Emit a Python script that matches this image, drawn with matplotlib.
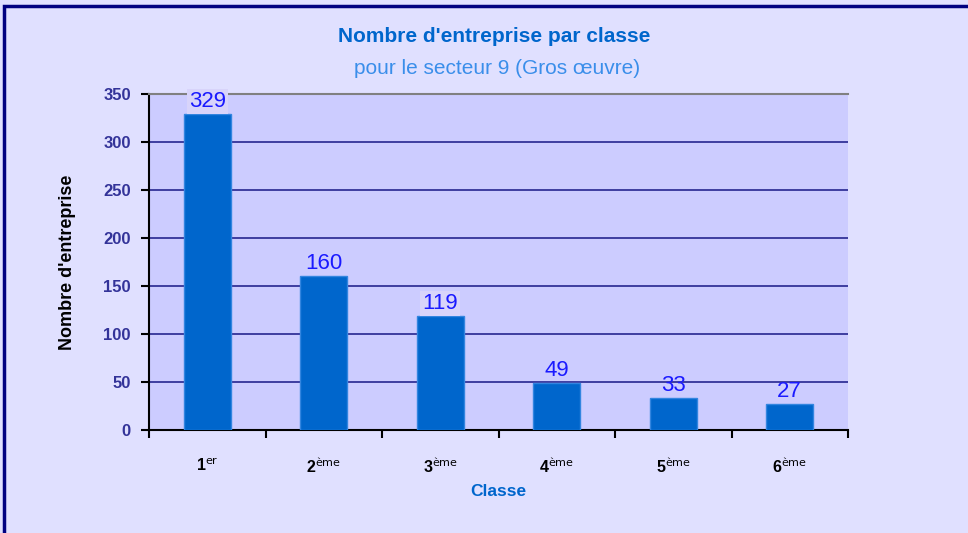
import matplotlib.pyplot as plt
import numpy as np

classes = ["1$^{\\mathrm{er}}$", "2$^{\\mathrm{ème}}$", "3$^{\\mathrm{ème}}$",
           "4$^{\\mathrm{ème}}$", "5$^{\\mathrm{ème}}$", "6$^{\\mathrm{ème}}$"]
nb_entreprises = [329, 160, 119, 49, 33, 27]
yticks = [0, 50, 100, 150, 200, 250, 300, 350]

plt.rcParams['font.family'] = ['Liberation Sans', 'DejaVu Sans']
plt.rcParams['mathtext.default'] = 'regular'

fig = plt.figure(figsize=(9.68, 5.33), dpi=100)
fig.patch.set_facecolor('#E0E0FF')

# navy frame around the chart area (runs off right and bottom)
frame = plt.Rectangle((4 / 968, -0.1), 1.2, (533 - 6) / 533 + 0.1, transform=fig.transFigure,
                      fill=False, edgecolor='#000080', linewidth=2.5)
fig.patches.append(frame)

ax = fig.add_axes([149 / 968, 103 / 533, 699 / 968, 336 / 533])
ax.set_facecolor('#CCCCFF')

x = np.arange(len(classes))
bars = ax.bar(x, nb_entreprises, width=0.4, color='#0066CC', edgecolor='#3385E0',
              linewidth=1, zorder=3)

ax.set_xlim(-0.5, len(classes) - 0.5)
ax.set_ylim(0, 350)
ax.set_yticks(yticks)
ax.set_yticklabels([str(v) for v in yticks], color='#333399', fontweight='bold', fontsize=12)
ax.yaxis.grid(True, color='#333399', linewidth=1.3, zorder=1)
ax.tick_params(axis='y', length=6, width=1.5, direction='out', pad=7)

ax.set_xticks(x)
ax.set_xticklabels(classes, fontweight='bold', fontsize=11.5, color='black')
ax.set_xticks(np.arange(len(classes) + 1) - 0.5, minor=True)
ax.tick_params(axis='x', which='major', length=0, pad=19)
ax.tick_params(axis='x', which='minor', length=6, width=1.5, direction='out')

for s in ['left', 'bottom']:
    ax.spines[s].set_color('black')
    ax.spines[s].set_linewidth(1.5)
ax.spines['top'].set_color('#808080')
ax.spines['top'].set_linewidth(1.5)
ax.spines['right'].set_visible(False)

for xi, v in zip(x, nb_entreprises):
    box = None
    if v in (329, 119):
        box = dict(boxstyle='square,pad=0.1', facecolor='#D8D4FA', edgecolor='none')
    ax.text(xi, v + 2, str(v), ha='center', va='bottom', color='#1A1AFF',
            fontsize=16, bbox=box, zorder=4, clip_on=False)

ax.set_ylabel("Nombre d'entreprise", fontweight='bold', fontsize=13, color='black', labelpad=20)
ax.set_xlabel("Classe", fontweight='bold', fontsize=12.5, color='#0066CC', labelpad=6)

fig.text(494 / 968, 1 - 37 / 533, "Nombre d'entreprise par classe", ha='center', va='center',
         fontsize=15, fontweight='bold', color='#0066CC')
fig.text(497 / 968, 1 - 68 / 533, "pour le secteur 9 (Gros œuvre)", ha='center', va='center',
         fontsize=15, color='#3A8EEA')

fig.savefig('out.png', dpi=100, facecolor=fig.get_facecolor())
